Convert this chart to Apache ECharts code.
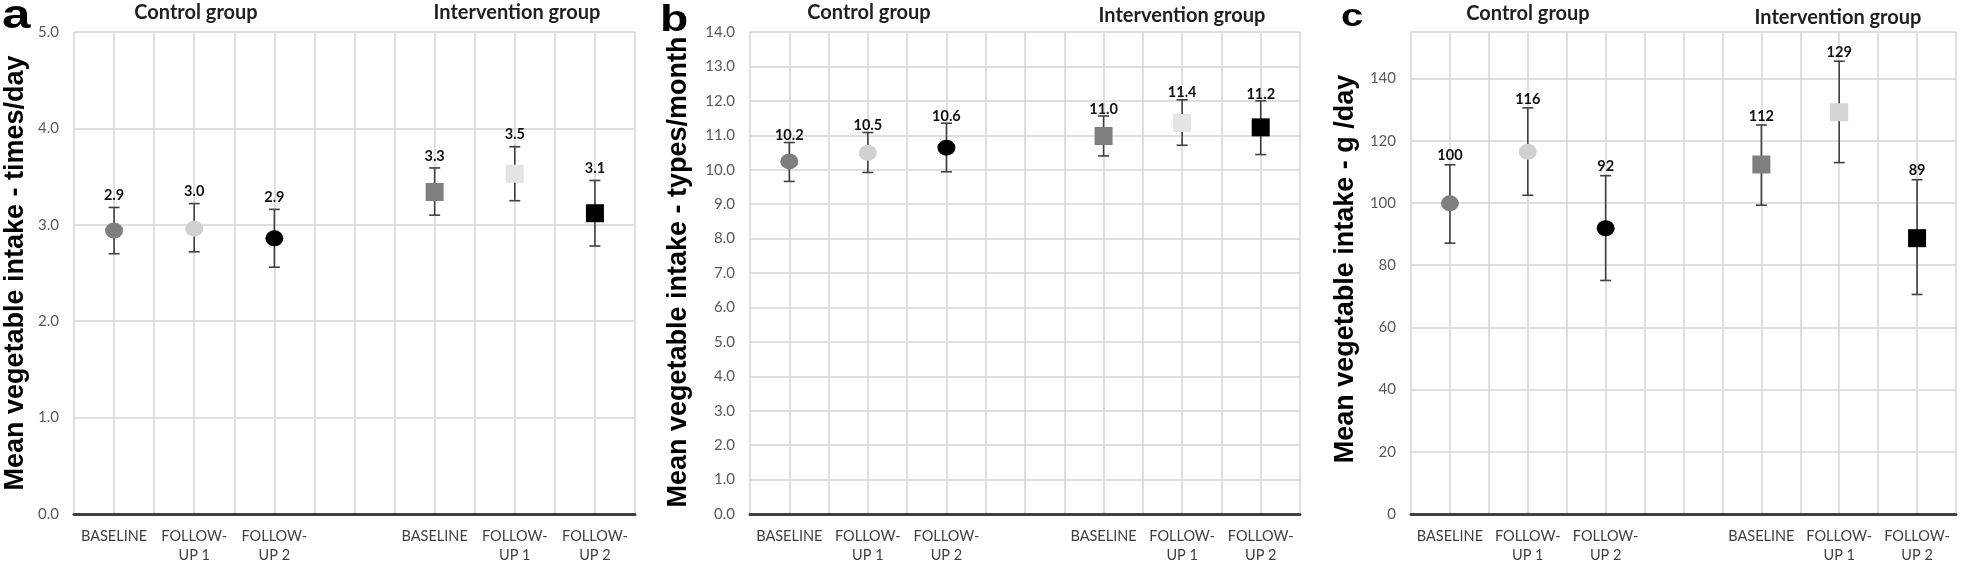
<!DOCTYPE html>
<html>
<head>
<meta charset="utf-8">
<script src="https://cdn.jsdelivr.net/npm/echarts/dist/echarts.min.js"></script>
<style>
html,body{margin:0;padding:0;background:#fff;}
#chart{width:1961px;height:565px;}
</style>
</head>
<body>
<div id="chart"></div>
<script>
// ---- data ----
const xCategories = ['BASELINE', 'FOLLOW-\nUP 1', 'FOLLOW-\nUP 2', '', 'BASELINE', 'FOLLOW-\nUP 1', 'FOLLOW-\nUP 2'];
const pointSlots = [0, 1, 2, 4, 5, 6];
const groupTitles = ['Control group', 'Intervention group'];
const panelLetters = ['a', 'b', 'c'];
const yTitles = ['Mean vegetable intake - times/day', 'Mean vegetable intake - types/month', 'Mean vegetable intake - g /day'];

// panel a: times/day
const meanTimesDay  = [2.94, 2.96, 2.86, 3.34, 3.53, 3.12];
const lowerTimesDay = [2.70, 2.72, 2.56, 3.10, 3.25, 2.78];
const upperTimesDay = [3.18, 3.22, 3.16, 3.59, 3.81, 3.46];
const labelsTimesDay = ['2.9', '3.0', '2.9', '3.3', '3.5', '3.1'];

// panel b: types/month
const meanTypesMonth  = [10.24, 10.49, 10.64, 10.98, 11.36, 11.23];
const lowerTypesMonth = [9.66, 9.92, 9.94, 10.40, 10.71, 10.44];
const upperTypesMonth = [10.79, 11.08, 11.35, 11.56, 12.03, 12.00];
const labelsTypesMonth = ['10.2', '10.5', '10.6', '11.0', '11.4', '11.2'];

// panel c: g/day
const meanGramsDay  = [99.9, 116.5, 91.9, 112.4, 129.2, 88.7];
const lowerGramsDay = [87.1, 102.5, 75.1, 99.3, 113.0, 70.6];
const upperGramsDay = [112.3, 130.6, 108.8, 125.1, 145.6, 107.5];
const labelsGramsDay = ['100', '116', '92', '112', '129', '89'];

// y axis scales
const yAxisA = {min: 0, max: 5, interval: 1};
const yAxisB = {min: 0, max: 14, interval: 1};
const yAxisC = {min: 0, max: 155, interval: 20};

// ---- styling ----
const markerShapes = ['circle', 'circle', 'circle', 'rect', 'rect', 'rect'];
const panels = [
  {left: 74, width: 561, axis: yAxisA, decimals: 1, mean: meanTimesDay, lower: lowerTimesDay, upper: upperTimesDay, labels: labelsTimesDay,
   colors: ['#7f7f7f', '#d0d0d0', '#000000', '#7f7f7f', '#e4e4e4', '#000000'], labelOffset: 12,
   titles: [[196, 12], [517, 12]], letter: [2, 37, 41], yTitle: [16, 273]},
  {left: 750, width: 550, axis: yAxisB, decimals: 1, mean: meanTypesMonth, lower: lowerTypesMonth, upper: upperTypesMonth, labels: labelsTypesMonth,
   colors: ['#7f7f7f', '#d0d0d0', '#000000', '#7f7f7f', '#e4e4e4', '#000000'], labelOffset: 7,
   titles: [[869, 12], [1182, 15]], letter: [660, 39, 37], yTitle: [679, 272]},
  {left: 1411, width: 545, axis: yAxisC, decimals: 0, mean: meanGramsDay, lower: lowerGramsDay, upper: upperGramsDay, labels: labelsGramsDay,
   colors: ['#7f7f7f', '#d0d0d0', '#000000', '#7f7f7f', '#d4d4d4', '#000000'], labelOffset: 9,
   titles: [[1528, 13], [1838, 17]], letter: [1341, 33, 32], yTitle: [1346, 269]}
];

const grids = [], xAxes = [], yAxes = [], series = [], graphics = [];
panels.forEach((p, k) => {
  grids.push({left: p.left, width: p.width, top: 32, bottom: 51, containLabel: false});
  xAxes.push({
    type: 'value', gridIndex: k, min: 0, max: xCategories.length, interval: 0.5,
    axisLine: {show: true, onZero: false, lineStyle: {color: '#404040', width: 3}},
    axisTick: {show: false},
    splitLine: {show: true, lineStyle: {color: '#d4d4d4', width: 1.5}},
    axisLabel: {
      margin: 13, fontFamily: 'Lato', fontSize: 14.5, color: '#404040', lineHeight: 19,
      showMinLabel: true, showMaxLabel: true,
      formatter: function (v) { const i = Math.floor(v); return (Math.abs(v - i - 0.5) < 1e-6) ? xCategories[i] : ''; }
    }
  });
  yAxes.push({
    type: 'value', gridIndex: k, min: p.axis.min, max: p.axis.max, interval: p.axis.interval,
    axisLine: {show: false}, axisTick: {show: false},
    splitLine: {show: true, lineStyle: {color: '#d4d4d4', width: 1.5}},
    axisLabel: {
      margin: 15, fontFamily: 'Lato', fontSize: 15, color: '#595959',
      formatter: function (v) { return (v > p.axis.max - p.axis.interval && (v - p.axis.min) % p.axis.interval !== 0) ? '' : v.toFixed(p.decimals); }
    }
  });
  const errData = pointSlots.map((s, i) => [s + 0.5, p.lower[i], p.upper[i], i]);
  series.push({
    type: 'custom', xAxisIndex: k, yAxisIndex: k, z: 3, silent: true,
    data: errData,
    renderItem: function (params, api) {
      const x = api.value(0);
      const lo = api.coord([x, api.value(1)]);
      const hi = api.coord([x, api.value(2)]);
      const idx = api.value(3);
      const cap = 5.5;
      const ls = {stroke: '#404040', lineWidth: 1.6};
      return {
        type: 'group',
        children: [
          {type: 'line', shape: {x1: lo[0], y1: lo[1], x2: hi[0], y2: hi[1]}, style: ls},
          {type: 'line', shape: {x1: lo[0] - cap, y1: lo[1], x2: lo[0] + cap, y2: lo[1]}, style: ls},
          {type: 'line', shape: {x1: hi[0] - cap, y1: hi[1], x2: hi[0] + cap, y2: hi[1]}, style: ls},
          {type: 'text', style: {text: p.labels[idx], x: hi[0], y: hi[1] - p.labelOffset,
            align: 'center', verticalAlign: 'middle', textAlign: 'center', textVerticalAlign: 'middle',
            font: 'bold 14.5px Lato', fill: '#111111'}}
        ]
      };
    }
  });
  series.push({
    type: 'scatter', xAxisIndex: k, yAxisIndex: k, z: 4, silent: true,
    data: pointSlots.map((s, i) => ({
      value: [s + 0.5, p.mean[i]],
      symbol: markerShapes[i],
      symbolSize: markerShapes[i] === 'circle' ? [18, 16] : [18, 18],
      itemStyle: {color: p.colors[i], opacity: 1}
    }))
  });
  // group titles
  groupTitles.forEach((t, j) => {
    graphics.push({type: 'text', x: p.titles[j][0], y: p.titles[j][1] + 1,
      style: {text: t, font: 'bold 20px Lato', fill: '#1f1f1f', align: 'center', verticalAlign: 'middle', textAlign: 'center', textVerticalAlign: 'middle'}});
  });
  // panel letter
  graphics.push({type: 'text', x: p.letter[0], y: p.letter[1], scaleX: 1.25,
    style: {text: panelLetters[k], font: 'bold ' + p.letter[2] + 'px "Liberation Sans"', fill: '#000', align: 'left', verticalAlign: 'bottom', textAlign: 'left', textVerticalAlign: 'bottom'}});
  // y-axis title
  graphics.push({type: 'text', x: p.yTitle[0], y: p.yTitle[1], rotation: Math.PI / 2,
    style: {text: yTitles[k], font: 'bold 27px "Liberation Sans"', fill: '#000', align: 'center', verticalAlign: 'middle', textAlign: 'center', textVerticalAlign: 'middle'}});
});

const chart = echarts.init(document.getElementById('chart'), null, {renderer: 'canvas'});
chart.setOption({
  animation: false,
  backgroundColor: '#ffffff',
  grid: grids, xAxis: xAxes, yAxis: yAxes, series: series,
  graphic: {elements: graphics}
});
</script>
</body>
</html>
